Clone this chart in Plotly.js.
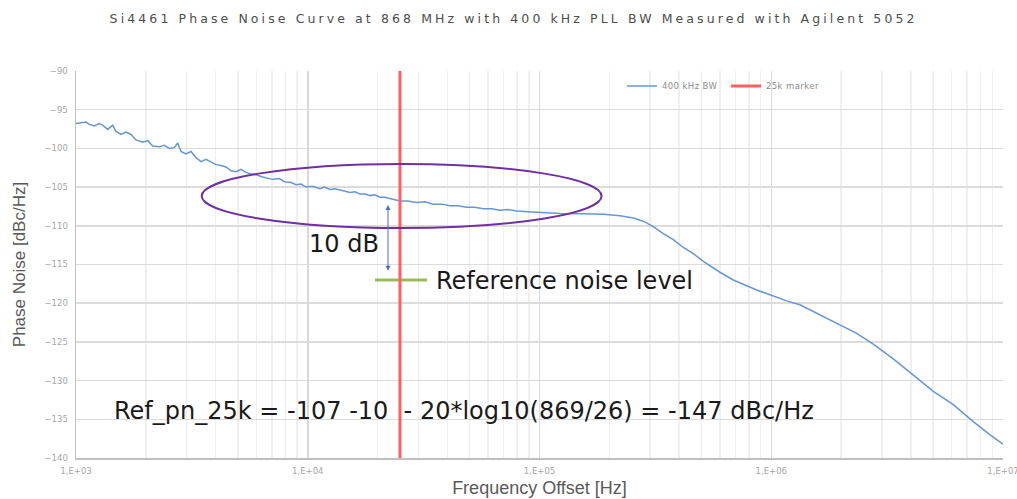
<!DOCTYPE html>
<html>
<head>
<meta charset="utf-8">
<script src="https://cdn.plot.ly/plotly-3.0.1.min.js"></script>
<style>
  html, body { margin: 0; padding: 0; background: #ffffff; }
  #chart { width: 1017px; height: 499px; }
  .gtitle { letter-spacing: 3.1px; }
  .legendtext { letter-spacing: 0.4px; }
</style>
</head>
<body>
<div id="chart"></div>
<script>
// ---- Data ----
const freqHz = [
  1000, 1051, 1105, 1142, 1200, 1261, 1303, 1370, 1439, 1488,
  1564, 1643, 1727, 1815, 1940, 2039, 2142, 2289, 2406, 2528,
  2657, 2746, 2839, 2983, 3135, 3295, 3463, 3639, 3824, 4019,
  4224, 4439, 4665, 4902, 5152, 5414, 5690, 5979, 6388, 6714,
  7056, 7541, 7926, 8466, 8896, 9350, 9828, 10500, 10900, 11295,
  11800, 12474, 13100, 13780, 14500, 15215, 16000, 16810, 17700, 18560,
  19500, 20500, 21500, 22640, 23800, 25000, 27000, 29520, 32000, 34820,
  38000, 41100, 44500, 48500, 52500, 57210, 62000, 67520, 73000, 79700,
  89000, 100500, 122600, 154500, 188500, 222500, 254000, 280500, 309800, 342100,
  377900, 417400, 461000, 509200, 600800, 686100, 783400, 865100, 987600, 1165000,
  1330000, 1623000, 1980000, 2337000, 2756000, 3362000, 4102000, 5003000, 6103000, 7443000,
  8790000, 10000000
];
const phaseNoise400k = [
  -96.8, -96.7, -96.6, -96.9, -97.1, -96.8, -97.0, -97.55, -97.0, -97.8,
  -98.2, -97.9, -98.2, -98.9, -99.2, -99.0, -99.7, -99.8, -99.6, -100.0,
  -99.9, -99.3, -100.4, -100.7, -100.4, -101.2, -101.7, -101.4, -101.8, -102.1,
  -102.2, -102.4, -102.9, -103.0, -102.7, -103.1, -103.3, -103.4, -103.7, -103.9,
  -104.0, -103.9, -104.3, -104.4, -104.7, -104.6, -105.0, -104.9, -105.1, -105.2,
  -105.0, -105.3, -105.2, -105.4, -105.6, -105.7, -105.6, -105.9, -105.9, -106.1,
  -106.0, -106.3, -106.3, -106.5, -106.6, -106.8, -106.8, -107.0, -106.9, -107.2,
  -107.2, -107.4, -107.4, -107.6, -107.6, -107.8, -107.8, -108.0, -107.9, -108.1,
  -108.2, -108.3, -108.4, -108.45, -108.5, -108.7, -109.0, -109.4, -110.1, -111.0,
  -111.8, -112.8, -113.6, -114.6, -116.0, -117.0, -117.8, -118.3, -118.9, -119.7,
  -120.2, -121.5, -122.8, -123.9, -125.3, -127.2, -129.3, -131.4, -133.1, -135.3,
  -137.0, -138.2
];
const markerFreq = [25000, 25000];
const markerLevel = [-140, -90];
const refLineFreq = [19500, 32700];
const refLineLevel = [-117, -117];
const arrowTopLevel = -107.3;
const arrowBottomLevel = -116.0;

const xTickVals = [1e3, 1e4, 1e5, 1e6, 1e7];
const xTickText = ['1,E+03', '1,E+04', '1,E+05', '1,E+06', '1,E+07'];
const seriesNames = ['400 kHz BW', '25k marker'];

const titleText = 'Si4461 Phase Noise Curve at 868 MHz with 400 kHz PLL BW Measured with Agilent 5052';
const formulaText = 'Ref_pn_25k = -107 -10\u00a0 - 20*log10(869/26) = -147 dBc/Hz';

// minor grid positions (2..9 within each decade)
const minorVals = [];
for (const d of [1e3, 1e4, 1e5, 1e6]) {
  for (let m = 2; m <= 9; m++) minorVals.push(m * d);
}

const traces = [
  {
    x: freqHz, y: phaseNoise400k, type: 'scatter', mode: 'lines',
    name: seriesNames[0], line: { color: '#6796d3', width: 1.5 }
  },
  {
    x: refLineFreq, y: refLineLevel, type: 'scatter', mode: 'lines',
    showlegend: false, hoverinfo: 'skip', line: { color: '#9bbb59', width: 3 }
  },
  {
    x: markerFreq, y: markerLevel, type: 'scatter', mode: 'lines',
    name: seriesNames[1], line: { color: '#ff6161', width: 3 }
  }
];

const bigFont = { family: 'DejaVu Sans', size: 24, color: '#1a1a1a' };

const layout = {
  width: 1017, height: 499,
  margin: { l: 76, r: 14, t: 71, b: 41 },
  paper_bgcolor: '#ffffff', plot_bgcolor: '#ffffff',
  title: {
    text: titleText,
    font: { family: 'DejaVu Sans', size: 12.5, color: '#4d4d4d' },
    x: 0.505, xref: 'container', xanchor: 'center',
    y: 0.962, yref: 'container', yanchor: 'middle'
  },
  showlegend: true,
  legend: {
    orientation: 'h', x: 0.589, y: 0.961, xanchor: 'left', yanchor: 'middle',
    entrywidth: 59, entrywidthmode: 'pixels',
    font: { family: 'DejaVu Sans', size: 8.5, color: '#8c8c8c' },
    bgcolor: 'rgba(0,0,0,0)'
  },
  xaxis: {
    type: 'log', range: [3, 7],
    tickmode: 'array', tickvals: xTickVals, ticktext: xTickText,
    ticklabeloverflow: 'allow',
    showgrid: true, gridcolor: '#d9d9d9', gridwidth: 1.5,
    minor: { tickmode: 'array', tickvals: minorVals, showgrid: true, gridcolor: '#efefef', gridwidth: 1.5, ticks: '' },
    showline: true, linecolor: '#bfbfbf', linewidth: 1.5, zeroline: false,
    ticks: 'outside', ticklen: 4, tickcolor: 'rgba(0,0,0,0)',
    tickfont: { family: 'DejaVu Sans', size: 8.5, color: '#a6a6a6' },
    title: { text: 'Frequency Offset [Hz]', font: { family: 'Liberation Sans', size: 18, color: '#595959' }, standoff: 6 }
  },
  yaxis: {
    range: [-140, -90], tick0: -140, dtick: 5,
    showgrid: true, gridcolor: '#dcdcdc', gridwidth: 1.5,
    showline: true, linecolor: '#bfbfbf', linewidth: 1.5, zeroline: false,
    ticks: 'outside', ticklen: 5, tickcolor: 'rgba(0,0,0,0)',
    tickfont: { family: 'DejaVu Sans', size: 8.5, color: '#a6a6a6' },
    title: { text: 'Phase Noise [dBc/Hz]', font: { family: 'Liberation Sans', size: 17, color: '#595959' }, standoff: 14 }
  },
  shapes: [
    {
      type: 'circle', xref: 'paper', yref: 'paper',
      x0: 0.1356, x1: 0.567, y0: 0.594, y1: 0.7597,
      line: { color: '#7030a0', width: 2 }, layer: 'above'
    }
  ],
  annotations: [
    {
      xref: 'paper', yref: 'y', x: 0.3366, y: arrowTopLevel,
      axref: 'pixel', ayref: 'y', ax: 0, ay: arrowBottomLevel,
      text: '', showarrow: true, arrowside: 'end+start',
      arrowhead: 2, startarrowhead: 2, arrowsize: 1, startarrowsize: 1,
      arrowwidth: 1, arrowcolor: '#4472c4'
    },
    {
      xref: 'paper', yref: 'paper', x: 0.2896, y: 0.554, xanchor: 'center', yanchor: 'middle',
      text: '10 dB', showarrow: false, font: bigFont
    },
    {
      xref: 'paper', yref: 'paper', x: 0.386, y: 0.457, xanchor: 'left', yanchor: 'middle',
      text: 'Reference noise level', showarrow: false, font: bigFont
    },
    {
      xref: 'paper', yref: 'paper', x: 0.039, y: 0.122, xanchor: 'left', yanchor: 'middle',
      text: formulaText, showarrow: false, font: bigFont
    }
  ]
};

Plotly.newPlot('chart', traces, layout, { displayModeBar: false, staticPlot: true });
</script>
</body>
</html>
